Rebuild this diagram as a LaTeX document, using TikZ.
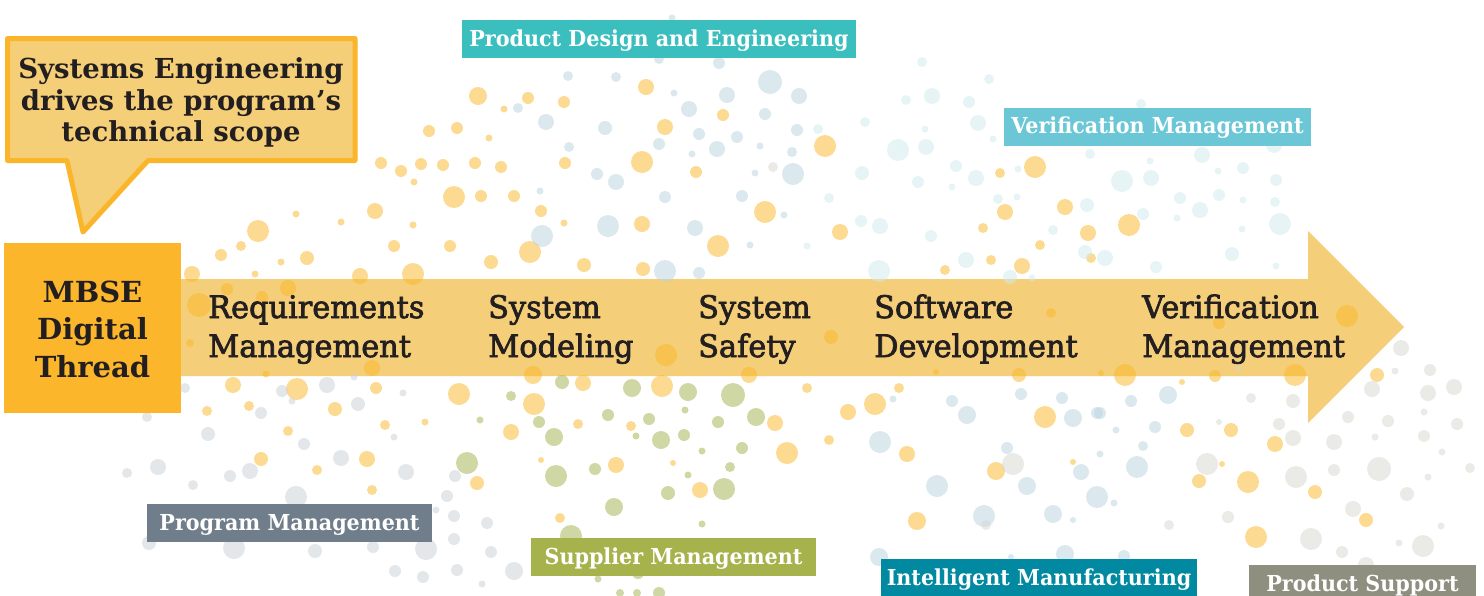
\documentclass[tikz,border=0pt]{standalone}
\usepackage{fontspec}
\setmainfont{DejaVu Serif}
\newfontfamily\arrowfont[FakeStretch=0.98]{DejaVu Serif}
\newfontfamily\labfont[FakeStretch=0.94]{DejaVu Serif}
\newfontfamily\callfont[FakeStretch=1.0]{DejaVu Serif}
\newcommand\heavytext[1]{\special{pdf:literal direct 2 Tr 0.7 w}#1\special{pdf:literal direct 0 Tr}}
\definecolor{cfill}{HTML}{F5CF77}
\definecolor{cborder}{HTML}{FBB52A}
\definecolor{mbse}{HTML}{FBB62B}
\definecolor{arrowc}{HTML}{F4CE78}
\definecolor{txt}{HTML}{231F20}
\definecolor{pde}{HTML}{3BBFBE}
\definecolor{verl}{HTML}{6BC7D6}
\definecolor{prog}{HTML}{6F7E8A}
\definecolor{supp}{HTML}{A6B24B}
\definecolor{intm}{HTML}{0089A0}
\definecolor{psup}{HTML}{8E8F7F}
\definecolor{dor}{HTML}{FBB725}
\definecolor{dbl}{HTML}{B9D5DF}
\definecolor{dlb}{HTML}{D1EBEF}
\definecolor{dgr}{HTML}{A1B14B}
\definecolor{dgl}{HTML}{CBD1D5}
\definecolor{dgrr}{HTML}{D7D7D1}
\tikzset{
 steptext/.style={anchor=base west, inner sep=0pt, text=txt, font=\arrowfont\fontsize{31}{37}\selectfont},
 calltext/.style={anchor=base, inner sep=0pt, text=txt, font=\callfont\bfseries\fontsize{27.5}{32}\selectfont},
 mbsetext/.style={anchor=base, inner sep=0pt, text=txt, font=\bfseries\fontsize{29}{35}\selectfont},
 tag/.style={inner xsep=0pt, inner ysep=0pt, minimum height=38pt, text=white, font=\labfont\bfseries\fontsize{22}{26}\selectfont, text height=16pt, text depth=2pt},
 dotfill/.style={opacity=0.5}
}
\begin{document}
\begin{tikzpicture}[x=1pt,y=-1pt]
\useasboundingbox (0,0) rectangle (1484,595);
\fill[white] (0,0) rectangle (1484,595);
% main arrow
\fill[arrowc] (181,279) -- (1308,279) -- (1308,231) -- (1404,327) -- (1308,423) -- (1308,376) -- (181,376) -- cycle;
% dots
\foreach \x/\y/\r in {478/96/9, 528/98/6, 504/109/3.5, 564/102/6, 429/131/6, 457/128/6, 489/138/3.5, 381/163/6, 401/171/6, 421/164/6, 443/165/6, 475/163/6, 501/167/6, 565/163/6, 414/182/3.5, 454/197/11, 481/196/6, 514/196/6, 541/211/6, 564/223/3.5, 375/211/8, 296/214/3.5, 341/222/3.5, 413/225/3.5, 258/231/11, 241/246/5, 221/255/6, 281/262/3.5, 307/258/7, 394/246/6, 450/246/6, 491/262/7, 530/252/11, 584/265/7, 192/274/8, 255/274/3.5, 360/276/8, 413/274/11,
 646/87/8, 723/115/6, 665/127/8, 825/146/11, 642/162/11, 696/172/6,
 765/212/11, 642/224/8, 718/246/11, 840/232/8, 983/228/5, 643/269/7, 945/270/5, 991/260/5,
 1000/173/5, 1035/167/11, 1005/212/8, 1065/207/8, 1129/225/11, 1088/233/8, 1040/245/5, 1091/258/5, 1022/266/8,
 199/305/12, 227/289/6, 262/297/6, 288/288/8, 190/343/4, 372/368/8, 266/374/3.5, 666/355/11, 831/337/7, 749/375/8, 1051/313/5, 1347/316/11, 1219/323/6, 1125/375/11, 1101/373/3, 1215/376/6, 1295/375/11, 1182/382/3, 1377/375/7,
 233/385/8, 297/389/11, 207/411/5, 249/406/5, 335/409/7, 376/388/6, 385/425/5, 425/422/3.5, 288/431/5, 261/459/7, 317/470/5, 367/459/8, 372/490/5, 459/394/11, 477/483/7, 511/432/8, 533/375/9, 583/383/8, 662/386/11, 534/404/11, 578/424/5, 631/426/5, 775/423/8, 787/453/11, 807/388/5, 848/412/8, 875/404/11, 899/388/5, 829/440/5, 907/454/8, 541/460/3, 616/465/8, 673/463/3, 700/490/8, 560/518/5, 917/521/9, 996/471/9, 1045/417/11, 1073/462/3, 1187/430/7, 1231/430/7, 1199/481/7, 1248/482/11, 1275/444/8, 1222/464/3, 1315/492/7, 1366/520/7, 1256/537/11, 1019/375/7, 936/372/3}
 \fill[dor,dotfill] (\x,\y) circle (\r pt);
\foreach \x/\y/\r in {672/18/3.5, 659/59/5, 719/63/6, 568/76/5, 616/77/5, 674/93/3.5, 770/82/12, 727/95/8, 799/96/8, 518/108/5, 546/122/8, 689/109/8, 765/114/6, 605/128/7, 797/130/6, 569/147/5, 659/144/6, 699/134/6, 737/137/6, 717/149/8, 760/146/3.5, 792/152/5, 692/154/3.5, 540/191/3.5, 542/236/11, 597/174/6, 616/182/8, 755/173/3.5, 793/174/11, 665/197/6, 742/196/6, 784/215/3.5, 608/226/11, 695/228/8, 750/245/3.5, 665/271/11, 699/273/6,
 893/399/3.5, 880/442/11, 952/401/6, 967/415/9, 1021/394/6, 1062/398/6, 1073/418/9, 1097/413/6, 1131/401/6, 1168/395/9, 1116/430/3.5, 1155/427/6, 1007/448/6, 1100/454/3.5, 1143/446/5, 1081/472/8, 1137/467/11, 937/486/11, 1027/486/9, 1097/497/11, 1114/503/3.5, 984/516/11, 1053/514/9, 1073/520/3, 879/557/9, 1011/557/3, 1065/554/9, 1124/556/6, 1100/413/6}
 \fill[dbl,dotfill] (\x,\y) circle (\r pt);
\foreach \x/\y/\r in {865/122/5, 818/129/5, 862/173/7, 829/198/5, 807/246/3.5, 861/221/6, 880/226/8, 931/236/6, 918/182/6, 952/187/3.5, 976/178/8, 922/62/5, 989/79/5, 906/100/5, 932/96/8, 969/102/6, 925/129/3.5, 978/123/8, 993/139/3.5, 1141/104/5, 898/150/11, 926/147/8, 956/166/6, 1018/169/3.5, 1090/154/5, 1150/161/3.5, 1202/155/8, 1243/168/6, 1218/171/3.5, 1274/145/8, 1276/180/6, 1122/181/11, 1151/178/8, 998/199/5, 1017/197/3.5, 1087/205/7, 1143/214/6, 1180/198/6, 1200/210/8, 1219/195/6, 1243/200/3.5, 1275/202/5, 1280/224/11, 1177/218/3.5, 1053/230/5, 1085/252/7, 1105/258/8, 1232/254/7, 1242/229/3.5, 1276/266/3.5, 1156/267/6, 879/271/11, 966/260/8, 1010/277/7, 1032/278/3.5}
 \fill[dlb,dotfill] (\x,\y) circle (\r pt);
\foreach \x/\y/\r in {467/463/11, 480/420/3.5, 562/382/7, 511/396/5, 632/388/9, 688/392/9, 733/395/12, 539/422/6, 554/437/9, 608/415/6, 649/419/6, 685/410/3.5, 718/422/6, 756/417/9, 636/436/3.5, 661/440/9, 684/435/6, 702/451/3.5, 742/448/6, 556/476/11, 595/469/6, 688/475/3.5, 730/467/5, 724/489/11, 668/493/7, 614/507/9, 702/524/3.5, 571/536/11, 598/579/3.5, 638/573/6, 659/593/6, 620/593/4, 637/593/4}
 \fill[dgr,dotfill] (\x,\y) circle (\r pt);
\foreach \x/\y/\r in {185/388/5, 282/391/6, 292/401/3.5, 327/385/8, 354/377/3.5, 358/404/7, 403/393/3.5, 261/413/6, 147/417/5, 208/434/7, 304/444/6, 394/437/3.5, 127/473/5, 158/467/8, 193/485/5, 230/476/6, 250/471/8, 341/458/8, 406/472/8, 296/497/11, 455/476/6, 447/496/6, 436/510/3.5, 454/516/6, 487/523/6, 454/539/6, 149/543/7, 234/548/11, 315/551/7, 373/547/6, 426/549/11, 491/552/6, 395/571/6, 423/577/6, 457/570/6, 514/571/9, 482/584/3.5}
 \fill[dgl,dotfill] (\x,\y) circle (\r pt);
\foreach \x/\y/\r in {1401/348/8, 1238/368/3, 1395/371/3.5, 1430/370/6, 1372/389/8, 1428/393/8, 1454/387/8, 1251/398/5, 1293/401/7, 1424/412/3.5, 1348/417/6, 1388/421/6, 1457/424/6, 1279/424/6, 1219/422/3, 1293/438/8, 1334/442/8, 1375/437/3.5, 1424/436/6, 1442/452/3.5, 1207/464/11, 1296/477/11, 1334/470/6, 1379/469/12, 1428/477/3.5, 1470/468/5, 1407/494/7, 1353/509/8, 1228/517/6, 1169/525/5, 1441/526/3.5, 1311/539/11, 1399/543/3.5, 1423/546/11, 1342/552/6, 1366/565/8, 1013/464/11, 986/525/5, 773/167/5}
 \fill[dgrr,dotfill] (\x,\y) circle (\r pt);
% callout
\filldraw[fill=cfill, draw=cborder, line width=5pt, line join=round] (7.5,38.5) -- (355,38.5) -- (355,160.5) -- (148,160.5) -- (83,232) -- (67,160.5) -- (7.5,160.5) -- cycle;
\node[calltext] (c1) at (181,78) {Systems Engineering};
\node[calltext] (c2) at (181,110) {drives the program’s};
\node[calltext] (c3) at (181,141) {technical scope};
% MBSE box
\fill[mbse] (4,243) rectangle (181,413);
\node[mbsetext] (m1) at (92.5,302) {MBSE};
\node[mbsetext] (m2) at (92.5,339) {Digital};
\node[mbsetext] (m3) at (92.5,377) {Thread};
% step texts
\node[steptext] (s1a) at (208,318) {\heavytext{Requirements}};
\node[steptext] (s1b) at (208,357) {\heavytext{Management}};
\node[steptext] (s2a) at (488,318) {\heavytext{System}};
\node[steptext] (s2b) at (488,357) {\heavytext{Modeling}};
\node[steptext] (s3a) at (698,318) {\heavytext{System}};
\node[steptext] (s3b) at (698,357) {\heavytext{Safety}};
\node[steptext] (s4a) at (874,318) {\heavytext{Software}};
\node[steptext] (s4b) at (874,357) {\heavytext{Development}};
\node[steptext] (s5a) at (1142,318) {\heavytext{Verification}};
\node[steptext] (s5b) at (1142,357) {\heavytext{Management}};
% tags
\node[tag, fill=pde, minimum width=394pt] (pde) at (659,39) {Product Design and Engineering};
\node[tag, fill=verl, minimum width=307pt] (ver) at (1157.5,126.5) {Verification Management};
\node[tag, fill=prog, minimum width=285pt] (prg) at (289.5,523) {Program Management};
\node[tag, fill=supp, minimum width=285pt] (sup) at (673.5,557) {Supplier Management};
\node[tag, fill=intm, minimum width=316pt] (int) at (1039,578) {Intelligent Manufacturing};
\node[tag, fill=psup, minimum width=227pt] (pst) at (1362.5,584) {Product Support};
\end{tikzpicture}
\end{document}
